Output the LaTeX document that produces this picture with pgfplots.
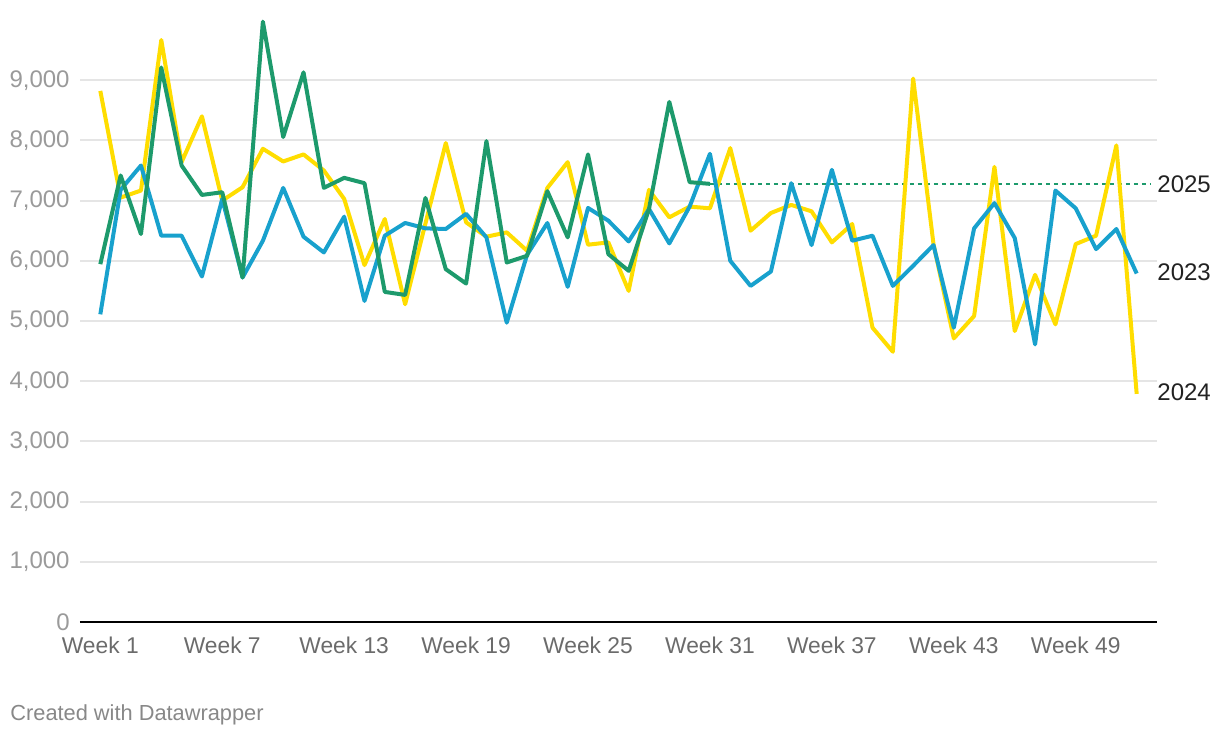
\documentclass[border=0pt]{standalone}
\usepackage{pgfplots}
\pgfplotsset{compat=1.18}
\usepackage{fontspec}
\setmainfont{Liberation Sans}

\definecolor{dwyellow}{HTML}{FFDD00}
\definecolor{dwblue}{HTML}{18A1CD}
\definecolor{dwgreen}{HTML}{1D9A6C}
\definecolor{gridgrey}{HTML}{E5E5E5}
\definecolor{ylab}{HTML}{9A9A9A}
\definecolor{xlab}{HTML}{6B6B6B}
\definecolor{serlab}{HTML}{222222}
\definecolor{foot}{HTML}{888888}

% weekly values
\pgfplotstableread{
week y2024 y2023
1 8822 5111
2 7050 7180
3 7167 7583
4 9667 6417
5 7639 6417
6 8400 5739
7 7000 7028
8 7222 5722
9 7861 6333
10 7650 7211
11 7767 6400
12 7500 6139
13 7028 6733
14 5928 5333
15 6694 6417
16 5278 6628
17 6620 6539
18 7956 6528
19 6639 6780
20 6400 6389
21 6472 4972
22 6167 6100
23 7211 6628
24 7639 5567
25 6267 6878
26 6306 6667
27 5500 6322
28 7178 6861
29 6722 6289
30 6900 6900
31 6872 7778
32 7872 6000
33 6500 5583
34 6794 5822
35 6928 7289
36 6822 6261
37 6306 7511
38 6611 6333
39 4889 6417
40 4489 5583
41 9028 5917
42 6280 6261
43 4711 4889
44 5083 6539
45 7560 6958
46 4833 6378
47 5767 4611
48 4944 7167
49 6278 6872
50 6417 6194
51 7917 6528
52 3789 5789
}\datamain

\pgfplotstableread{
week y2025
1 5944
2 7417
3 6444
4 9211
5 7583
6 7094
7 7139
8 5722
9 9972
10 8056
11 9130
12 7211
13 7378
14 7289
15 5483
16 5433
17 7044
18 5861
19 5622
20 7989
21 5972
22 6083
23 7156
24 6389
25 7767
26 6111
27 5833
28 6861
29 8639
30 7306
31 7278
}\datanew

\begin{document}
\begin{tikzpicture}
\path[use as bounding box] (-40pt,-58pt) rectangle (570pt,311pt);
\begin{axis}[
    at={(0,0)}, anchor=south west,
    scale only axis,
    width=538.5pt, height=301pt,
    xmin=0, xmax=53,
    ymin=0, ymax=10000,
    clip=false,
    axis line style={draw=none},
    major tick length=0pt,
    xtick={1,7,13,19,25,31,37,43,49},
    xticklabels={Week 1,Week 7,Week 13,Week 19,Week 25,Week 31,Week 37,Week 43,Week 49},
    ytick={0,1000,...,9000},
    ymajorgrids,
    grid style={gridgrey, line width=1pt},
    extra y ticks={0},
    extra y tick labels={},
    extra y tick style={grid style={black, line width=1.1pt}},
    yticklabel style={anchor=east, inner sep=0pt, xshift=-5pt, text=ylab, font=\fontsize{12}{14}\selectfont},
    xticklabel style={anchor=north, inner sep=0pt, yshift=-7.5pt, text=xlab, font=\fontsize{11.4}{14}\selectfont},
    /pgf/number format/assume math mode=true,
    /pgf/number format/1000 sep={,},
    scaled y ticks=false,
    every axis plot/.append style={line width=2pt, line join=round, mark=none},
]
\addplot[dwgreen, line width=0.8pt, dash pattern=on 2pt off 2pt] coordinates {(31,7278) (52.7,7278)};
\addplot[dwyellow] table[x=week, y=y2024] {\datamain};
\addplot[dwblue] table[x=week, y=y2023] {\datamain};
\addplot[dwgreen] table[x=week, y=y2025] {\datanew};

\node[anchor=west, inner sep=0pt, text=serlab, font=\fontsize{12}{14}\selectfont] at (axis cs:53,7278) {2025};
\node[anchor=west, inner sep=0pt, text=serlab, font=\fontsize{12}{14}\selectfont] at (axis cs:53,5810) {2023};
\node[anchor=west, inner sep=0pt, text=serlab, font=\fontsize{12}{14}\selectfont] at (axis cs:53,3820) {2024};
\end{axis}
\node[anchor=west, inner sep=0pt, text=foot, font=\fontsize{10.9}{13}\selectfont] at (-35pt,-46.5pt) {Created with Datawrapper};
\end{tikzpicture}
\end{document}
